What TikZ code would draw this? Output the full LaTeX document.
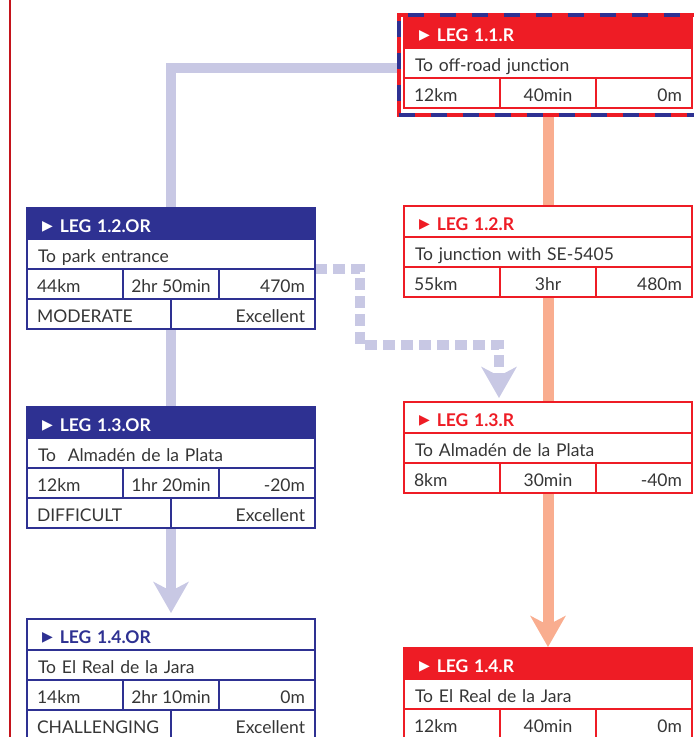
\documentclass[tikz,border=0pt]{standalone}
\usepackage{fontspec}
\setmainfont{Lato}
\newfontfamily\symfont{DejaVu Sans}
\usepackage{tikz}
\usetikzlibrary{arrows.meta,positioning,fit,backgrounds}
\definecolor{legred}{HTML}{EE1C25}
\definecolor{legblue}{HTML}{2E3192}
\definecolor{lavroad}{HTML}{C8C8E4}
\definecolor{salroad}{HTML}{F9AD8F}
\definecolor{rulered}{HTML}{C4141C}
\definecolor{txtgray}{HTML}{363636}
\newcommand{\legmark}{\raisebox{1.2pt}{\symfont\fontsize{14}{14}\selectfont ▶}\hspace{7pt}}
\newcommand{\legfont}{\fontsize{17.5}{19}\selectfont}
\tikzset{
  cellbox/.style={rectangle, draw=#1, line width=1.4pt, fill=white, outer sep=0pt,
                  inner xsep=10pt, inner ysep=0pt, minimum height=30pt,
                  text height=16pt, text depth=0pt, font=\legfont, text=txtgray},
  hdrfill/.style={cellbox=#1, fill=#1, text=white, font=\legfont\bfseries,
                  inner xsep=15pt, text width=258pt, align=left, minimum height=31pt, text height=17pt},
  hdropen/.style={hdrfill=#1, fill=white, text=#1},
  destcell/.style={cellbox=#1, inner xsep=11pt, text width=266pt, align=left},
  numL/.style={cellbox=#1, text width=76pt, align=left},
  numC/.style={cellbox=#1, inner xsep=0pt, minimum width=96pt},
  numR/.style={cellbox=#1, text width=76pt, align=right},
  gradeL/.style={cellbox=#1, text width=124pt, align=left},
  gradeR/.style={cellbox=#1, text width=124pt, align=right},
  legframe/.style={rectangle, draw=legred, line width=4pt, inner sep=0pt, outer sep=0pt,
                   postaction={draw=legblue, line width=4pt, dash pattern=on 16pt off 16pt}},
  salline/.style={draw=salroad, line width=11pt},
  lavline/.style={draw=lavroad, line width=10.5pt},
  lavdash/.style={draw=lavroad, line width=10.5pt, dash pattern=on 12pt off 6pt},
  roadarr/.style={-{Stealth[length=31pt, width=35pt, inset=9pt]}},
}

\begin{document}
\begin{tikzpicture}[x=1pt, y=-1pt]
\useasboundingbox (0,0) rectangle (694,737);
\draw[rulered, line width=1.5pt] (10,0) -- (10,737);

% road legs (right column)
\node[hdrfill=legred, anchor=north west] (h11r) at (404,17) {\legmark LEG 1.1.R};
\node[destcell=legred, anchor=north west] (d11r) at (h11r.south west) {To off-road junction};
\node[numL=legred, anchor=north west] (k11r) at (d11r.south west) {12km};
\node[numC=legred, anchor=north west] (t11r) at (k11r.north east) {40min};
\node[numR=legred, anchor=north west] (e11r) at (t11r.north east) {0m};
\node[legframe, fit={([xshift=-5.5pt,yshift=2.5pt]h11r.north west) ([xshift=5pt,yshift=-7pt]e11r.south east)}] (f11r) {};

\node[hdropen=legred, anchor=north west] (h12r) at (404,206) {\legmark LEG 1.2.R};
\node[destcell=legred, anchor=north west] (d12r) at (h12r.south west) {To junction with SE-5405};
\node[numL=legred, anchor=north west] (k12r) at (d12r.south west) {55km};
\node[numC=legred, anchor=north west] (t12r) at (k12r.north east) {3hr};
\node[numR=legred, anchor=north west] (e12r) at (t12r.north east) {480m};

\node[hdropen=legred, anchor=north west] (h13r) at (404,402) {\legmark LEG 1.3.R};
\node[destcell=legred, anchor=north west] (d13r) at (h13r.south west) {To Almadén de la Plata};
\node[numL=legred, anchor=north west] (k13r) at (d13r.south west) {8km};
\node[numC=legred, anchor=north west] (t13r) at (k13r.north east) {30min};
\node[numR=legred, anchor=north west] (e13r) at (t13r.north east) {-40m};

\node[hdrfill=legred, anchor=north west] (h14r) at (404,648) {\legmark LEG 1.4.R};
\node[destcell=legred, anchor=north west] (d14r) at (h14r.south west) {To El Real de la Jara};
\node[numL=legred, anchor=north west] (k14r) at (d14r.south west) {12km};
\node[numC=legred, anchor=north west] (t14r) at (k14r.north east) {40min};
\node[numR=legred, anchor=north west] (e14r) at (t14r.north east) {0m};

% off-road legs (left column)
\node[hdrfill=legblue, anchor=north west] (h12or) at (27,208) {\legmark LEG 1.2.OR};
\node[destcell=legblue, anchor=north west] (d12or) at (h12or.south west) {To park entrance};
\node[numL=legblue, anchor=north west] (k12or) at (d12or.south west) {44km};
\node[numC=legblue, anchor=north west] (t12or) at (k12or.north east) {2hr 50min};
\node[numR=legblue, anchor=north west] (e12or) at (t12or.north east) {470m};
\node[gradeL=legblue, anchor=north west] (g12or) at (k12or.south west) {MODERATE};
\node[gradeR=legblue, anchor=north west] (q12or) at (g12or.north east) {Excellent};

\node[hdrfill=legblue, anchor=north west] (h13or) at (27,407) {\legmark LEG 1.3.OR};
\node[destcell=legblue, anchor=north west] (d13or) at (h13or.south west) {To\ \ Almadén de la Plata};
\node[numL=legblue, anchor=north west] (k13or) at (d13or.south west) {12km};
\node[numC=legblue, anchor=north west] (t13or) at (k13or.north east) {1hr 20min};
\node[numR=legblue, anchor=north west] (e13or) at (t13or.north east) {-20m};
\node[gradeL=legblue, anchor=north west] (g13or) at (k13or.south west) {DIFFICULT};
\node[gradeR=legblue, anchor=north west] (q13or) at (g13or.north east) {Excellent};

\node[hdropen=legblue, anchor=north west] (h14or) at (27,619) {\legmark LEG 1.4.OR};
\node[destcell=legblue, anchor=north west] (d14or) at (h14or.south west) {To El Real de la Jara};
\node[numL=legblue, anchor=north west] (k14or) at (d14or.south west) {14km};
\node[numC=legblue, anchor=north west] (t14or) at (k14or.north east) {2hr 10min};
\node[numR=legblue, anchor=north west] (e14or) at (t14or.north east) {0m};
\node[gradeL=legblue, anchor=north west] (g14or) at (k14or.south west) {CHALLENGING};
\node[gradeR=legblue, anchor=north west] (q14or) at (g14or.north east) {Excellent};

% connectors
\begin{scope}[on background layer]
\draw[salline] (h12r.north |- f11r.south) -- (h12r.north);
\draw[salline] (t12r.south) -- (h13r.north);
\draw[salline, roadarr, shorten >=1pt] (t13r.south) -- (h14r.north);
\draw[lavline] ([yshift=-3pt]f11r.west) -| (h12or.north);
\draw[lavline] (g12or.south east) -- (h13or.north);
\draw[lavline, roadarr, shorten >=6pt] (g13or.south east) -- (h14or.north);
\coordinate (dk1) at (360,345);
\draw[lavdash, roadarr, shorten >=4pt] (d12or.south east) -| (dk1) -| ([xshift=-49pt]h13r.north);
\end{scope}
\end{tikzpicture}
\end{document}
